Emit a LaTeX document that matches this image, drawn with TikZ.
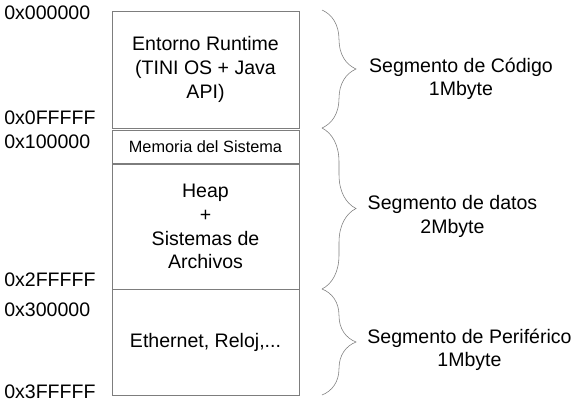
\documentclass[tikz,border=0pt]{standalone}
\usepackage{fontspec}
\setmainfont{Liberation Sans}
\usetikzlibrary{decorations.pathreplacing}
\usetikzlibrary{positioning}

\begin{document}
\begin{tikzpicture}[x=0.025cm,y=-0.025cm]
                \definecolor{linecolor}{RGB}{125,125,125}
                \tikzset{
                    membox/.style={draw=linecolor, thin, minimum width=4.675cm, inner sep=0pt, align=center, font=\fontsize{13.9}{17}\selectfont},
                    addr/.style={anchor=west, inner sep=0pt, font=\fontsize{13.9}{17}\selectfont},
                    seg/.style={align=center, inner sep=0pt, font=\fontsize{13.9}{16.5}\selectfont},
                    llave/.style={draw=linecolor, thin, decorate, decoration={brace, amplitude=0.85cm}}
                }
                \useasboundingbox (0,0) rectangle (574,404);
                
                \node[membox, minimum height=2.925cm] (runtime) at (205.5,69.5) {Entorno Runtime\\(TINI OS + Java\\API)};
                \node[membox, minimum height=0.825cm, font=\fontsize{11.6}{14}\selectfont] (sistema) at (205.5,146.5) {Memoria del Sistema};
                \node[membox, minimum height=3.125cm] (heap) at (205.5,226.5) {Heap\\+\\Sistemas de\\Archivos};
                \node[membox, minimum height=2.65cm] (perif) at (205.5,342) {Ethernet, Reloj,...};
                
                \node[addr] (a0) at (4,13) {0x000000};
                \node[addr] (a1) at (4,118) {0x0FFFFF};
                \node[addr] (a2) at (4,142) {0x100000};
                \node[addr] (a3) at (4,280) {0x2FFFFF};
                \node[addr] (a4) at (4,310) {0x300000};
                \node[addr] (a5) at (4,392) {0x3FFFFF};
                
                \coordinate (b0) at (322,10);
                \coordinate (b1) at (322,128);
                \coordinate (b2) at (322,289);
                \coordinate (b3) at (322,395);
                
                \draw[llave] (b0) -- (b1);
                \draw[llave] (b1) -- (b2);
                \draw[llave] (b2) -- (b3);
                
                \node[seg] (codigo) at (461,79) {Segmento de Código\\1Mbyte};
                \node[seg] (datos) at (452.5,216.5) {Segmento de datos\\2Mbyte};
                \node[seg] (periferico) at (469.5,350) {Segmento de Periférico\\1Mbyte};
            \end{tikzpicture}
\end{document}
